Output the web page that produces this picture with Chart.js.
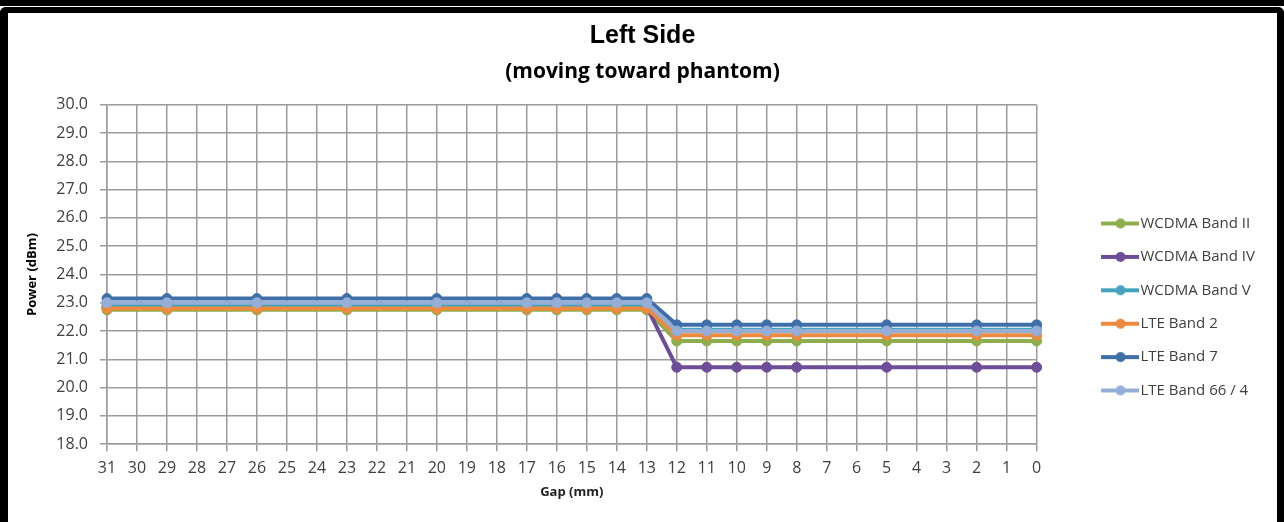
<!DOCTYPE html>
<html>
<head>
<meta charset="utf-8">
<script src="https://cdn.jsdelivr.net/npm/chart.js@4.4.1/dist/chart.umd.min.js"></script>
<style>
  html, body { margin: 0; padding: 0; background: #fff; }
  body { width: 1284px; height: 522px; position: relative; overflow: hidden; }
  #strip { position: absolute; left: 0; top: 0; width: 1284px; height: 6px; background: #000; }
  #frame { position: absolute; left: 0; top: 7px; width: 1284px; height: 515px; box-sizing: border-box;
           border: solid #000; border-width: 6px 7px 0 8px; border-radius: 6px 6px 0 0; background: #fff; }
  #frame canvas { display: block; }
</style>
</head>
<body>
<div id="strip"></div>
<div id="frame"><canvas id="chart" width="1269" height="509"></canvas></div>
<script>
// Left Side (moving toward phantom) - power vs gap, one line per band

const gapLabels = ['31','30','29','28','27','26','25','24','23','22','21','20','19','18','17','16',
                   '15','14','13','12','11','10','9','8','7','6','5','4','3','2','1','0'];

// gaps where a measurement was taken
const measuredGaps = ['31','29','26','23','20','17','16','15','14','13','12','11','10','9','8','5','2','0'];

const wcdmaBand2 = [22.75, 22.75, 22.75, 22.75, 22.75, 22.75, 22.75, 22.75, 22.75, 22.75,
                    21.65, 21.65, 21.65, 21.65, 21.65, 21.65, 21.65, 21.65];
const wcdmaBand4 = [22.85, 22.85, 22.85, 22.85, 22.85, 22.85, 22.85, 22.85, 22.85, 22.85,
                    20.72, 20.72, 20.72, 20.72, 20.72, 20.72, 20.72, 20.72];
const wcdmaBand5 = [22.9, 22.9, 22.9, 22.9, 22.9, 22.9, 22.9, 22.9, 22.9, 22.9,
                    22.05, 22.05, 22.05, 22.05, 22.05, 22.05, 22.05, 22.05];
const lteBand2   = [22.8, 22.8, 22.8, 22.8, 22.8, 22.8, 22.8, 22.8, 22.8, 22.8,
                    21.85, 21.85, 21.85, 21.85, 21.85, 21.85, 21.85, 21.85];
const lteBand7   = [23.15, 23.15, 23.15, 23.15, 23.15, 23.15, 23.15, 23.15, 23.15, 23.15,
                    22.22, 22.22, 22.22, 22.22, 22.22, 22.22, 22.22, 22.22];
const lteBand66  = [23.0, 23.0, 23.0, 23.0, 23.0, 23.0, 23.0, 23.0, 23.0, 23.0,
                    22.0, 22.0, 22.0, 22.0, 22.0, 22.0, 22.0, 22.0];

const seriesNames  = ['WCDMA Band II', 'WCDMA Band IV', 'WCDMA Band V', 'LTE Band 2', 'LTE Band 7', 'LTE Band 66 / 4'];
const seriesValues = [wcdmaBand2, wcdmaBand4, wcdmaBand5, lteBand2, lteBand7, lteBand66];
const seriesColors = ['#8cae4c', '#6d4d97', '#45a3bd', '#ed8a3d', '#3f6fa8', '#94aed8'];

const axisGray = '#9c9c9c';
const textGray = '#404040';

// legend marker: short line with a dot, drawn in the right part of the image
function legendMarker(color) {
  const c = document.createElement('canvas');
  c.width = 90; c.height = 14;
  const g = c.getContext('2d');
  g.strokeStyle = color;
  g.lineWidth = 4;
  g.beginPath(); g.moveTo(52, 7); g.lineTo(90, 7); g.stroke();
  g.fillStyle = color;
  g.beginPath(); g.arc(71.5, 7, 5, 0, Math.PI * 2); g.fill();
  return c;
}

const datasets = seriesNames.map((name, i) => ({
  label: name,
  data: measuredGaps.map((g, j) => ({ x: g, y: seriesValues[i][j] })),
  borderColor: seriesColors[i],
  backgroundColor: seriesColors[i],
  pointBackgroundColor: seriesColors[i],
  pointBorderColor: seriesColors[i],
  borderWidth: 4,
  pointRadius: 5,
  pointBorderWidth: 1,
  tension: 0,
  order: seriesNames.length - i   // later series drawn on top, like Excel
}));

const ctx = document.getElementById('chart').getContext('2d');

new Chart(ctx, {
  type: 'line',
  data: { labels: gapLabels, datasets },
  options: {
    responsive: false,
    animation: false,
    layout: { padding: { left: 12, right: 12, top: 0, bottom: 18 } },
    plugins: {
      title: {
        display: true,
        text: 'Left Side',
        color: '#000',
        font: { family: "'Liberation Sans', Arial", size: 25, weight: 'bold' },
        padding: { top: 8, bottom: 0 }
      },
      subtitle: {
        display: true,
        text: '(moving toward phantom)',
        color: '#000',
        font: { family: "'Open Sans', Arial", size: 21, weight: 'bold' },
        padding: { top: 8.6, bottom: 20 }
      },
      legend: {
        position: 'right',
        align: 'center',
        fullSize: false,
        title: { display: true, text: ' ', font: { size: 15 }, padding: { top: 47, bottom: 0 } },
        labels: {
          usePointStyle: true,
          pointStyleWidth: 78,
          padding: 18.4,
          color: textGray,
          font: { family: "'Open Sans', Arial", size: 15 },
          sort: (a, b) => a.datasetIndex - b.datasetIndex,
          generateLabels(chart) {
            const items = Chart.defaults.plugins.legend.labels.generateLabels(chart);
            items.forEach(it => { it.pointStyle = legendMarker(seriesColors[it.datasetIndex]); });
            return items;
          }
        }
      },
      tooltip: { enabled: false }
    },
    scales: {
      x: {
        type: 'category',
        offset: false,
        grid: { color: axisGray, lineWidth: 1.5, tickLength: 7, tickColor: axisGray },
        border: { color: axisGray, width: 1.5 },
        ticks: {
          autoSkip: false, maxRotation: 0, padding: 8, color: textGray,
          font: { family: "'Open Sans', Arial", size: 16 }
        },
        title: {
          display: true, text: 'Gap (mm)', color: '#222',
          font: { family: "'Open Sans', Arial", size: 13, weight: 'bold' },
          padding: { top: -2, bottom: 4 }
        }
      },
      y: {
        min: 18,
        max: 30,
        grid: { color: axisGray, lineWidth: 1.5, tickLength: 7, tickColor: axisGray },
        border: { color: axisGray, width: 1.5 },
        ticks: {
          stepSize: 1, padding: 12, color: textGray,
          font: { family: "'Open Sans', Arial", size: 16 },
          callback: v => Number(v).toFixed(1)
        },
        title: {
          display: true, text: 'Power (dBm)', color: '#000',
          font: { family: "'Open Sans', Arial", size: 13, weight: 'bold' },
          padding: { top: 4, bottom: 4 }
        },
        afterFit(scale) { scale.width = 87; }
      }
    }
  }
});
</script>
</body>
</html>
